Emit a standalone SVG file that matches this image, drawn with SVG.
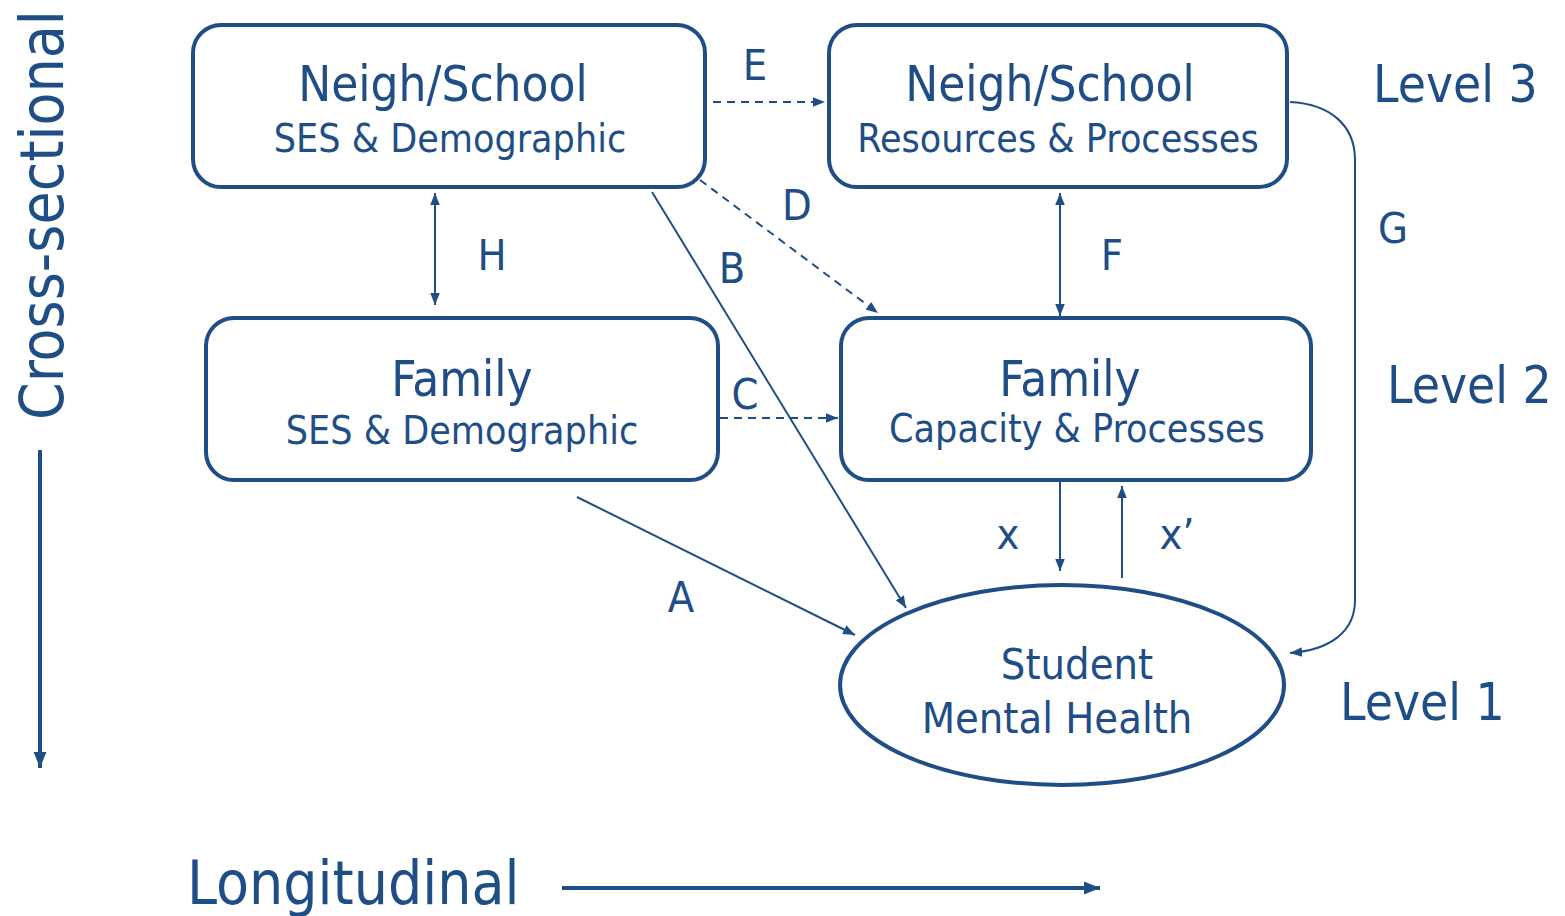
<svg xmlns="http://www.w3.org/2000/svg" width="1565" height="916" viewBox="0 0 1565 916">
<defs>
<style>
text{font-family:"DejaVu Sans Condensed","DejaVu Sans",sans-serif;font-stretch:condensed;fill:#1f4e87;text-anchor:middle}
.box{fill:#fff;stroke:#1f4e87;stroke-width:4}
.ttl{font-size:49px}
.sub{font-size:39px}
.lvl{font-size:51px;text-anchor:start}
.lab{font-size:43px}
.c{fill:none;stroke:#1f4e87;stroke-width:2}
.d{stroke-dasharray:8,6}
.axis{fill:none;stroke:#1f4e87;stroke-width:4}
</style>
<marker id="ah" viewBox="0 0 10 8" refX="10" refY="4" markerWidth="12" markerHeight="10" markerUnits="userSpaceOnUse" orient="auto-start-reverse">
<path d="M0,0 L10,4 L0,8 z" fill="#1f4e87"/>
</marker>
<marker id="ahb" viewBox="0 0 10 8" refX="10" refY="4" markerWidth="16" markerHeight="14" markerUnits="userSpaceOnUse" orient="auto">
<path d="M0,0 L10,4 L0,8 z" fill="#1f4e87"/>
</marker>
</defs>

<g id="connectors">
<line class="c d" x1="713" y1="102" x2="825" y2="102" marker-end="url(#ah)"/>
<line class="c d" x1="700" y1="180" x2="878" y2="313" marker-end="url(#ah)"/>
<line class="c" x1="652" y1="192" x2="906" y2="608" marker-end="url(#ah)"/>
<line class="c" x1="435" y1="193" x2="435" y2="305" marker-start="url(#ah)" marker-end="url(#ah)"/>
<line class="c d" x1="720" y1="418" x2="838" y2="418" marker-end="url(#ah)"/>
<line class="c" x1="1060" y1="193" x2="1060" y2="316" marker-start="url(#ah)" marker-end="url(#ah)"/>
<line class="c" x1="577" y1="497" x2="855" y2="635" marker-end="url(#ah)"/>
<line class="c" x1="1060" y1="482" x2="1060" y2="571" marker-end="url(#ah)"/>
<line class="c" x1="1122" y1="578" x2="1122" y2="486" marker-end="url(#ah)"/>
<path class="c" d="M1290,102 C1330,104 1355,125 1355,160 L1355,600 C1355,632 1330,650 1290,653" marker-end="url(#ah)"/>
<text class="lab" x="755" y="80">E</text>
<text class="lab" x="797" y="220">D</text>
<text class="lab" x="732" y="283">B</text>
<text class="lab" x="492" y="270">H</text>
<text class="lab" x="745" y="409">C</text>
<text class="lab" x="1112" y="270">F</text>
<text class="lab" x="1393" y="243">G</text>
<text class="lab" x="681" y="612">A</text>
<text class="lab" x="1008" y="549">x</text>
<text class="lab" x="1177" y="549">x’</text>
</g>

<g id="neigh-ses">
<rect class="box" x="193" y="25" width="512" height="162" rx="28"/>
<text class="ttl" x="443" y="101">Neigh/School</text>
<text class="sub" x="450" y="152">SES &amp; Demographic</text>
</g>

<g id="neigh-res">
<rect class="box" x="829" y="25" width="458" height="162" rx="28"/>
<text class="ttl" x="1050" y="101">Neigh/School</text>
<text class="sub" x="1058" y="152">Resources &amp; Processes</text>
</g>

<g id="family-ses">
<rect class="box" x="206" y="318" width="512" height="162" rx="28"/>
<text class="ttl" x="462" y="396">Family</text>
<text class="sub" x="462" y="444">SES &amp; Demographic</text>
</g>

<g id="family-cap">
<rect class="box" x="841" y="318" width="470" height="162" rx="28"/>
<text class="ttl" x="1070" y="396">Family</text>
<text class="sub" x="1077" y="442">Capacity &amp; Processes</text>
</g>

<g id="student">
<ellipse class="box" cx="1062" cy="685" rx="222" ry="100"/>
<text class="lab" x="1077" y="679">Student</text>
<text class="lab" x="1057" y="733">Mental Health</text>
</g>

<g id="levels">
<text class="lvl" x="1373" y="102">Level 3</text>
<text class="lvl" x="1387" y="403">Level 2</text>
<text class="lvl" x="1340" y="720">Level 1</text>
</g>

<g id="axes">
<text transform="translate(63,420) rotate(-90)" style="font-size:60px;text-anchor:start">Cross-sectional</text>
<line class="axis" x1="40" y1="450" x2="40" y2="768" marker-end="url(#ahb)"/>
<text x="187" y="904" style="font-size:60px;text-anchor:start">Longitudinal</text>
<line class="axis" x1="562" y1="888" x2="1100" y2="888" marker-end="url(#ahb)"/>
</g>
</svg>
